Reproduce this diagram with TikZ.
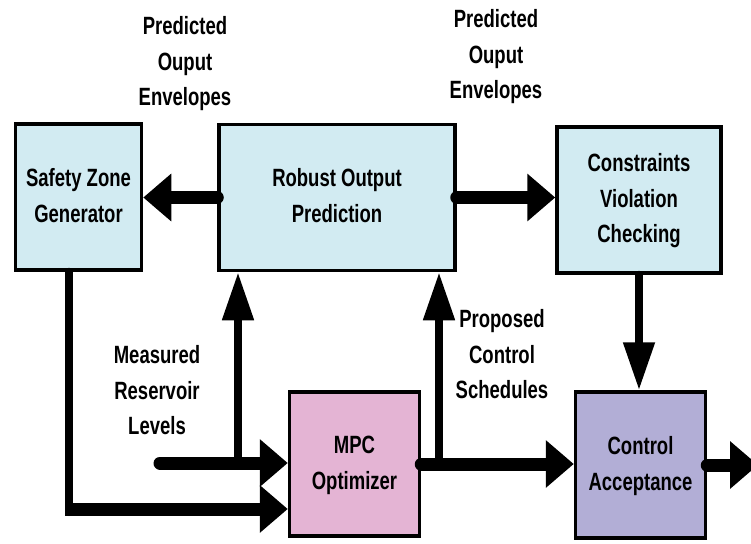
\documentclass[tikz,border=0pt]{standalone}
\usepackage{fontspec}
\setmainfont{Liberation Sans}
\usepackage{graphicx}
\usepackage{tikz}
\usetikzlibrary{arrows.meta}

\definecolor{zoneblue}{RGB}{210,235,242}
\definecolor{mpcpink}{RGB}{228,180,212}
\definecolor{acceptblue}{RGB}{178,174,214}

\newcommand{\tallstack}[1]{\scalebox{1}[1.35]{\begin{tabular}{@{}c@{}}#1\end{tabular}}}

\tikzset{
    blockbox/.style={draw, line width=3.5pt, inner sep=0pt, minimum width=#1},
    blockbox/.default=130pt,
    tallfont/.style={font=\bfseries\fontsize{18.5}{26.5}\selectfont},
    harrow/.style={line width=13pt, line cap=round, -{Triangle[length=28pt, width=46pt]}},
    varrow/.style={line width=8pt, line cap=round, -{Triangle[length=48pt, width=30pt]}},
    hline/.style={line width=13pt},
    vline/.style={line width=8pt, line cap=round}
}

\begin{document}
\begin{tikzpicture}[x=1pt, y=-1pt, tallfont]
    \useasboundingbox (0,0) rectangle (751,543);

    \node[blockbox=126pt, fill=zoneblue, minimum height=146pt] (safety) at (78.5,197) {\tallstack{Safety Zone\\Generator}};
    \node[blockbox=236pt, fill=zoneblue, minimum height=146pt] (robust) at (337,197.5) {\tallstack{Robust Output\\Prediction}};
    \node[blockbox=164pt, fill=zoneblue, minimum height=146pt] (cvc) at (639,200) {\tallstack{Constraints\\Violation\\Checking}};
    \node[blockbox=130pt, fill=mpcpink, minimum height=144pt] (mpc) at (354.5,464) {\tallstack{MPC\\Optimizer}};
    \node[blockbox=130pt, fill=acceptblue, minimum height=146pt] (accept) at (640.5,465) {\tallstack{Control\\Acceptance}};

    \node (poeleft) at (185,63) {\tallstack{Predicted\\Ouput\\Envelopes}};
    \node (poeright) at (496,56) {\tallstack{Predicted\\Ouput\\Envelopes}};
    \node (levels) at (157,392) {\tallstack{Measured\\Reservoir\\Levels}};
    \node (schedules) at (502,356) {\tallstack{Proposed\\Control\\Schedules}};

    \coordinate (zonecorner) at (69,509);
    \coordinate (levelsin) at (160,463);
    \coordinate (levelsup) at (238,463);
    \coordinate (schedup) at (439,464);
    \coordinate (acceptout) at (758,465);

    \draw[harrow] (robust.west) -- (robust.west -| safety.east);
    \draw[harrow] (robust.east) -- (robust.east -| cvc.west);
    \draw[varrow] (cvc.south) -- (cvc.south |- accept.north);

    \draw[vline] (safety.south -| zonecorner) -- ([yshift=-3pt]zonecorner);
    \draw[hline, -{Triangle[length=28pt, width=46pt]}] ([xshift=-4pt]zonecorner) -- (zonecorner -| mpc.west);

    \draw[harrow] (levelsin) -- (levelsin -| mpc.west);
    \draw[varrow] (levelsup) -- (levelsup |- robust.south);

    \draw[harrow] (mpc.east) -- (mpc.east -| accept.west);
    \draw[varrow] (schedup) -- (schedup |- robust.south);

    \draw[harrow] (accept.east) -- (acceptout);
\end{tikzpicture}
\end{document}
